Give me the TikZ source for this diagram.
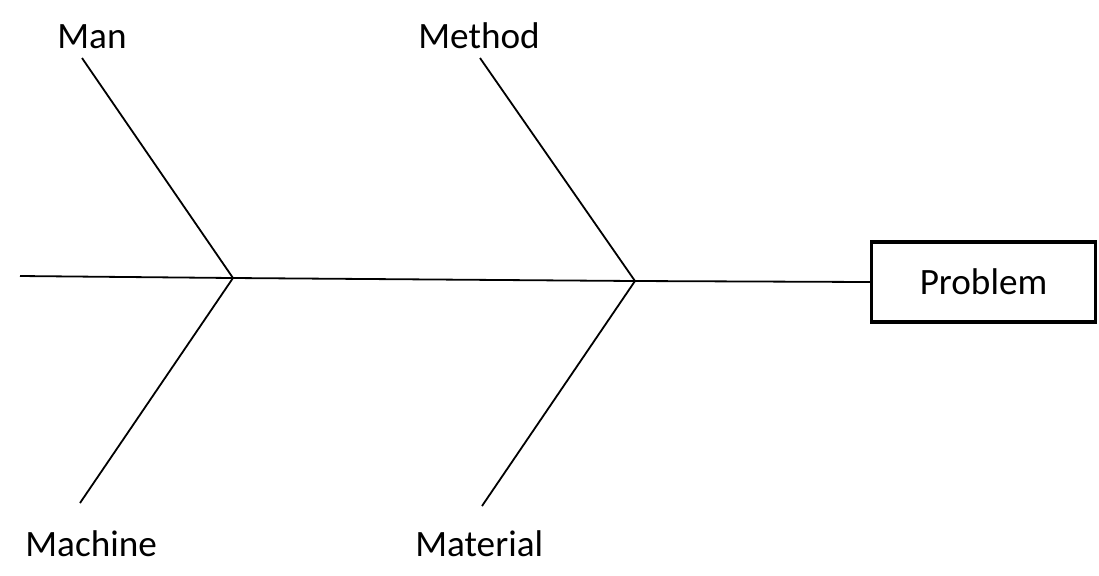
\documentclass[tikz,border=0pt]{standalone}
\usepackage{fontspec}
\setmainfont{Carlito}
\usetikzlibrary{positioning}

\begin{document}
\begin{tikzpicture}[x=0.5pt,y=-0.5pt,
    bone/.style={line width=0.9pt},
    cause/.style={font=\fontsize{18.6}{20}\selectfont,inner sep=0pt,anchor=base west},
    effect/.style={draw,line width=1.7pt,minimum width=112pt,minimum height=40pt,
      font=\fontsize{18.6}{20}\selectfont}]
   \useasboundingbox (0,0) rectangle (1099,575);
   \node[effect] (problem) at (983.5,282) {Problem};
   \coordinate (tail) at (20,276);
   \coordinate (j1) at (233,278);
   \coordinate (j2) at (635,281);
   \node[cause] (man) at (57,48) {Man};
   \node[cause] (method) at (418,48) {Method};
   \node[cause] (machine) at (25,556) {Machine};
   \node[cause] (material) at (415,556) {Material};
   \coordinate (manend) at (82,58);
   \coordinate (methodend) at (480,58);
   \coordinate (machineend) at (80,503);
   \coordinate (materialend) at (482,506);
   \draw[bone] (tail) -- (j1) -- (j2) -- (problem.west);
   \draw[bone] (manend) -- (j1) -- (machineend);
   \draw[bone] (methodend) -- (j2) -- (materialend);
\end{tikzpicture}
\end{document}
